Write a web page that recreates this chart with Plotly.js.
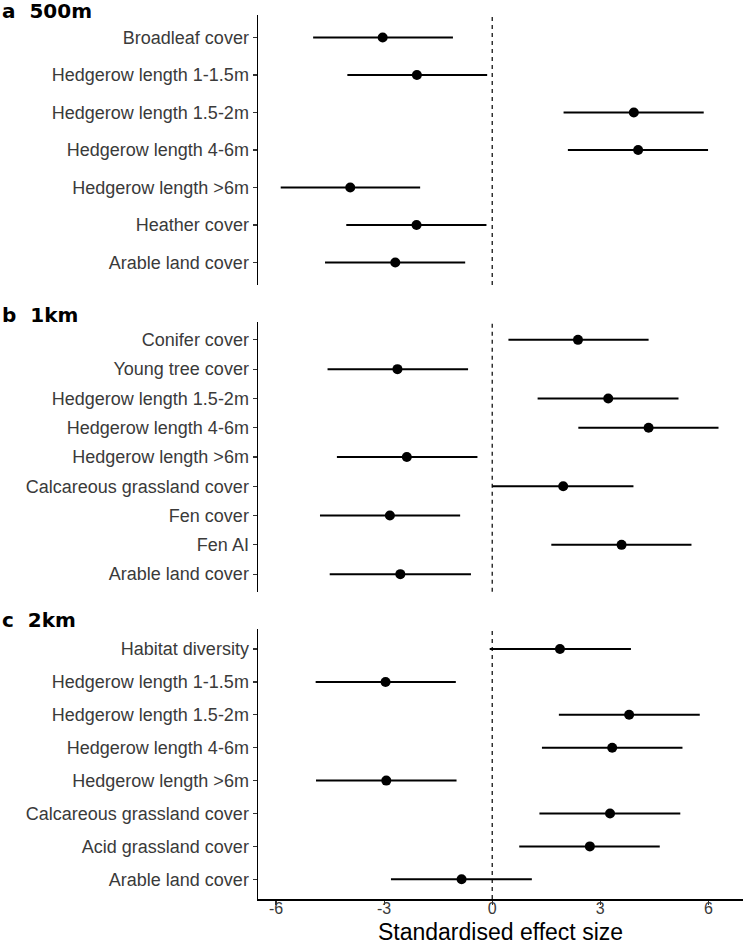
<!DOCTYPE html>
<html>
<head>
<meta charset="utf-8">
<script src="https://cdn.plot.ly/plotly-3.0.1.min.js"></script>
<style>html,body{margin:0;padding:0;background:#fff;}#chart{width:743px;height:945px;}</style>
</head>
<body>
<div id="chart"></div>
<script>
// Panel a: 500m
const catsA = ["Broadleaf cover","Hedgerow length 1-1.5m","Hedgerow length 1.5-2m","Hedgerow length 4-6m","Hedgerow length >6m","Heather cover","Arable land cover"];
const estA  = [-3.04,-2.09,3.93,4.05,-3.94,-2.10,-2.69];
const lowA  = [-4.97,-4.02,1.98,2.10,-5.87,-4.05,-4.64];
const upA   = [-1.09,-0.14,5.87,5.99,-2.00,-0.16,-0.75];

// Panel b: 1km
const catsB = ["Conifer cover","Young tree cover","Hedgerow length 1.5-2m","Hedgerow length 4-6m","Hedgerow length >6m","Calcareous grassland cover","Fen cover","Fen AI","Arable land cover"];
const estB  = [2.38,-2.63,3.22,4.34,-2.37,1.97,-2.84,3.59,-2.55];
const lowB  = [0.45,-4.57,1.26,2.39,-4.31,0.00,-4.78,1.64,-4.51];
const upB   = [4.34,-0.67,5.17,6.28,-0.41,3.92,-0.89,5.53,-0.59];

// Panel c: 2km
const catsC = ["Habitat diversity","Hedgerow length 1-1.5m","Hedgerow length 1.5-2m","Hedgerow length 4-6m","Hedgerow length >6m","Calcareous grassland cover","Acid grassland cover","Arable land cover"];
const estC  = [1.88,-2.96,3.80,3.33,-2.94,3.27,2.71,-0.85];
const lowC  = [-0.07,-4.90,1.85,1.38,-4.89,1.31,0.75,-2.81];
const upC   = [3.85,-1.01,5.76,5.28,-0.99,5.22,4.65,1.10];

const panelTitles = ["a\u00a0\u00a0500m","b\u00a0\u00a01km","c\u00a0\u00a02km"];
const xTicks = [-6,-3,0,3,6];
const xTitle = "Standardised effect size";

function trace(cats, est, low, up, yax){
  return {
    type:'scatter', mode:'markers', x: est, y: cats, xaxis:'x', yaxis: yax,
    marker:{color:'black', size:10},
    error_x:{type:'data', symmetric:false,
      array: est.map((v,i)=>up[i]-v), arrayminus: est.map((v,i)=>v-low[i]),
      width:0, thickness:2, color:'black'},
    hoverinfo:'skip', showlegend:false, cliponaxis:false
  };
}

const data = [
  trace(catsA, estA, lowA, upA, 'y3'),
  trace(catsB, estB, lowB, upB, 'y2'),
  trace(catsC, estC, lowC, upC, 'y')
];

const L = 258, W = 743 - L, H = 899;
const px = p => (p - L) / W;
const py = p => (H - p) / H;

const yBase = {
  type:'category', showline:true, linecolor:'black', linewidth:1.5,
  ticks:'outside', ticklen:4, tickwidth:1.2, tickcolor:'#333',
  tickfont:{family:'Liberation Sans, Arial, sans-serif', size:18, color:'#3a3a3a'},
  showgrid:false, zeroline:false, anchor:'x', fixedrange:true
};

const layout = {
  width:743, height:945,
  margin:{l:L, r:0, t:0, b:46},
  paper_bgcolor:'white', plot_bgcolor:'white',
  showlegend:false,
  xaxis:{
    range:[-6.5,6.96], tickvals:xTicks, ticktext:xTicks.map(String),
    showline:true, linecolor:'black', linewidth:1.5,
    ticks:'outside', ticklen:4, tickwidth:1.2, tickcolor:'#333',
    ticklabelstandoff:-10,
    tickfont:{family:'Liberation Sans, Arial, sans-serif', size:16, color:'#3a3a3a'},
    showgrid:false, zeroline:false, anchor:'y',
    title:{text:xTitle, font:{family:'Liberation Sans, Arial, sans-serif', size:23, color:'black'}, standoff:9}
  },
  yaxis: Object.assign({}, yBase, {domain:[0, py(629.3)], range:[catsC.length-1+0.6, -0.6]}),
  yaxis2: Object.assign({}, yBase, {domain:[py(591.7), py(322.3)], range:[catsB.length-1+0.6, -0.6]}),
  yaxis3: Object.assign({}, yBase, {domain:[py(285), py(15)], range:[catsA.length-1+0.6, -0.6]}),
  shapes: ['y','y2','y3'].map(a => ({
    type:'line', xref:'x', yref:a+' domain', x0:0, x1:0, y0:0, y1:1,
    line:{color:'black', width:1.2, dash:'4px,4px'}, layer:'below'
  })),
  annotations: [
    {text:'<b>'+panelTitles[0]+'</b>', x:px(0), y:py(11), yanchor:'middle'},
    {text:'<b>'+panelTitles[1]+'</b>', x:px(0), y:py(315), yanchor:'middle'},
    {text:'<b>'+panelTitles[2]+'</b>', x:px(0), y:py(620), yanchor:'middle'}
  ].map(a => Object.assign(a, {xref:'paper', yref:'paper', xanchor:'left', showarrow:false,
      font:{family:'DejaVu Sans, sans-serif', size:20, color:'black'}}))
};

Plotly.newPlot('chart', data, layout, {staticPlot:true, displayModeBar:false});
</script>
</body>
</html>
